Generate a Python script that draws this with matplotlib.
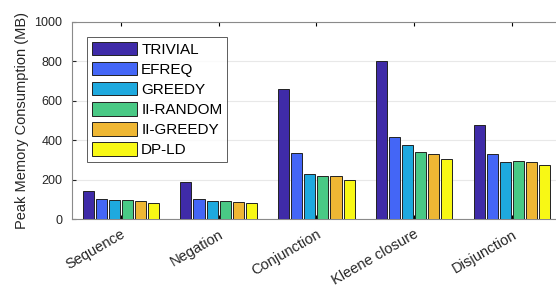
import numpy as np
import matplotlib
matplotlib.use("Agg")
import matplotlib.pyplot as plt

plt.rcParams['font.family'] = ['Liberation Sans', 'DejaVu Sans']

categories = ['Sequence', 'Negation', 'Conjunction', 'Kleene closure', 'Disjunction']
methods = ['TRIVIAL', 'EFREQ', 'GREEDY', 'II-RANDOM', 'II-GREEDY', 'DP-LD']
memory = {
    'TRIVIAL':   [144, 186, 658, 802, 477],
    'EFREQ':     [102, 102, 333, 416, 328],
    'GREEDY':    [98, 90, 228, 374, 291],
    'II-RANDOM': [95, 90, 217, 338, 294],
    'II-GREEDY': [91, 86, 217, 328, 288],
    'DP-LD':     [81, 80, 198, 305, 274],
}
colors = ['#3f2ba8', '#4466f6', '#1ea9de', '#49c985', '#efb734', '#f8f815']

fig = plt.figure(figsize=(5.56, 2.90), dpi=100)
ax = fig.add_axes([72 / 556, 71 / 290, 488.75 / 556, 197 / 290])

x = np.arange(1, len(categories) + 1)
pitch = 0.134
width = 0.114
for i, m in enumerate(methods):
    off = (i - 2.5) * pitch
    ax.bar(x + off, memory[m], width, color=colors[i], edgecolor='#222222',
           linewidth=0.7, label=m, zorder=3)

ax.set_xlim(0.5, 5.5)
ax.set_ylim(0, 1000)
ax.set_yticks([0, 200, 400, 600, 800, 1000])
ax.set_xticks(x)
ax.set_xticklabels(categories, rotation=30, ha='right', rotation_mode='anchor',
                   fontsize=10.5, color='#262626')
ax.tick_params(axis='y', labelsize=9, colors='#262626', direction='in', length=3, pad=7)
ax.tick_params(axis='x', direction='in', length=3, top=True, pad=6)
ax.yaxis.grid(True, color='#e8e8e8', linewidth=0.8, zorder=0)
for s in ax.spines.values():
    s.set_color('#8a8a8a')
    s.set_linewidth(0.8)
ax.set_ylabel('Peak Memory Consumption (MB)', fontsize=10.5, color='#262626', labelpad=4)

leg = ax.legend(loc='upper left', bbox_to_anchor=(15 / 488.75, 182 / 197), fontsize=11,
                frameon=True, fancybox=False, handlelength=2.95, handleheight=1.0,
                handletextpad=0.3, labelspacing=0.33, borderpad=0.3,
                borderaxespad=0)
leg.get_frame().set_edgecolor('#333333')
leg.get_frame().set_linewidth(0.7)

fig.savefig('out.png', dpi=100)
